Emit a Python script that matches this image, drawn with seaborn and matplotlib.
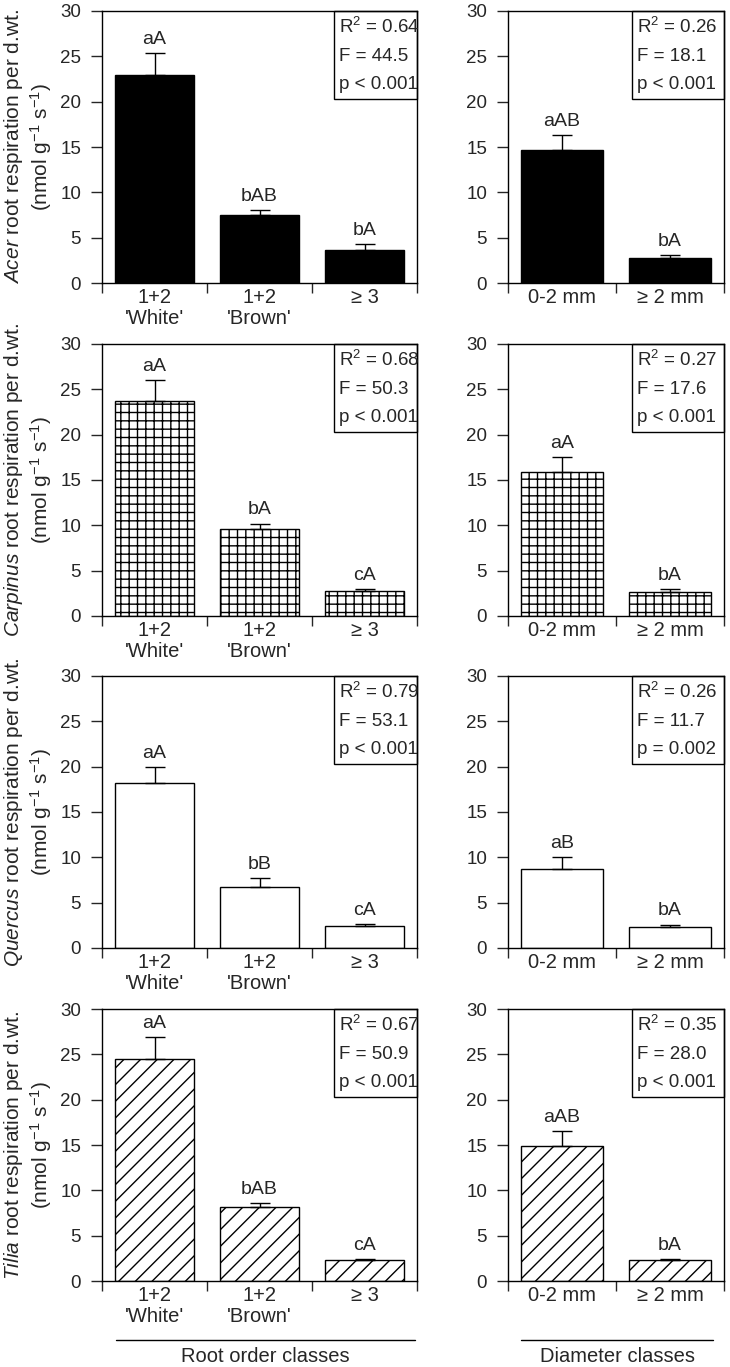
import matplotlib
matplotlib.use('Agg')
import matplotlib.pyplot as plt
import seaborn as sns
import numpy as np
import pandas as pd
from matplotlib.patches import Rectangle
from matplotlib.lines import Line2D

sns.set_theme(style='ticks')
plt.rcParams['font.family'] = ['Liberation Sans', 'DejaVu Sans']
plt.rcParams['mathtext.fontset'] = 'custom'
plt.rcParams['mathtext.rm'] = 'Liberation Sans'
plt.rcParams['mathtext.it'] = 'Liberation Sans:italic'
plt.rcParams['hatch.linewidth'] = 1.0

# datos
species = ['Acer', 'Carpinus', 'Quercus', 'Tilia']
order_labels = ["1+2\n'White'", "1+2\n'Brown'", "\u2265 3"]
diam_labels = ['0-2 mm', '\u2265 2 mm']

order_mean = [[22.9, 7.45, 3.65], [23.7, 9.55, 2.75], [18.2, 6.75, 2.43], [24.45, 8.13, 2.29]]
order_se = [[2.5, 0.65, 0.65], [2.3, 0.65, 0.25], [1.8, 0.95, 0.26], [2.5, 0.5, 0.18]]
diam_mean = [[14.65, 2.8], [15.9, 2.7], [8.7, 2.33], [14.9, 2.29]]
diam_se = [[1.65, 0.3], [1.6, 0.25], [1.3, 0.26], [1.65, 0.18]]

order_letters = [['aA', 'bAB', 'bA'], ['aA', 'bA', 'cA'], ['aA', 'bB', 'cA'], ['aA', 'bAB', 'cA']]
diam_letters = [['aAB', 'bA'], ['aA', 'bA'], ['aB', 'bA'], ['aAB', 'bA']]

order_r2 = ['0.64', '0.68', '0.79', '0.67']
order_f = ['44.5', '50.3', '53.1', '50.9']
order_p = ['p < 0.001', 'p < 0.001', 'p < 0.001', 'p < 0.001']
diam_r2 = ['0.26', '0.27', '0.26', '0.35']
diam_f = ['18.1', '17.6', '11.7', '28.0']
diam_p = ['p < 0.001', 'p < 0.001', 'p = 0.002', 'p < 0.001']

fills = ['black', 'white', 'white', 'white']
hatches = [None, '++', None, '//']

W, H = 730, 1367
fig = plt.figure(figsize=(W / 100, H / 100), dpi=100)
FS_Y = 13.5     # ticks eje y
FS_X = 14.5     # etiquetas de clases
FS_L = 14       # letras sobre barras
FS_S = 13.5     # recuadro estadistico


def add_ax(x0, x1, top, bottom):
    return fig.add_axes([x0 / W, 1 - bottom / H, (x1 - x0) / W, (bottom - top) / H])


def panel(ax, labels, means, se, letters, r2, f, p, fill, hatch, box_x, text_x):
    df = pd.DataFrame({'clase': labels, 'resp': means})
    sns.barplot(data=df, x='clase', y='resp', order=labels, color=fill, saturation=1,
                width=0.76, edgecolor='black', linewidth=1.0, errorbar=None, ax=ax)
    if hatch:
        for patch in ax.patches:
            patch.set_hatch(hatch)
    pos = np.arange(len(labels))
    ax.errorbar(pos, means, yerr=[np.zeros(len(se)), se], fmt='none', ecolor='black',
                elinewidth=1.0, capsize=7, capthick=1.0, zorder=3)
    for i, (m, s, l) in enumerate(zip(means, se, letters)):
        ax.annotate(l, (i, m + s), xytext=(0, 6.5), textcoords='offset points',
                    ha='center', va='baseline', fontsize=FS_L)
    ax.set_xlim(-0.5, len(labels) - 0.5)
    ax.set_ylim(0, 30)
    ax.set_yticks([0, 5, 10, 15, 20, 25, 30])
    ax.set_xticks(np.arange(len(labels) + 1) - 0.5)
    ax.set_xticklabels([])
    ax.set_xticks(pos, minor=True)
    ax.set_xticklabels(labels, minor=True, fontsize=FS_X, linespacing=1.15)
    ax.tick_params(axis='x', which='major', direction='out', length=7.5, width=1.0)
    ax.tick_params(axis='x', which='minor', length=0, pad=3.5)
    ax.tick_params(axis='y', direction='out', length=8, width=1.0, pad=7, labelsize=FS_Y)
    ax.set_xlabel('')
    ax.set_ylabel('')
    for sp in ax.spines.values():
        sp.set_visible(True)
        sp.set_linewidth(1.0)
        sp.set_color('black')
    ax.add_patch(Rectangle((box_x, 0.676), 1 - box_x, 0.324, transform=ax.transAxes,
                           fill=False, edgecolor='black', linewidth=1.0, clip_on=False))
    ax.text(text_x, 0.941, 'R$^2$ = ' + r2, transform=ax.transAxes, fontsize=FS_S, va='center')
    ax.text(text_x, 0.831, 'F = ' + f, transform=ax.transAxes, fontsize=FS_S, va='center')
    ax.text(text_x, 0.728, p, transform=ax.transAxes, fontsize=FS_S, va='center')


tops = [11, 344, 676, 1009]
for r, sp in enumerate(species):
    top = tops[r]
    bottom = top + 272
    axl = add_ax(102, 417, top, bottom)
    panel(axl, order_labels, order_mean[r], order_se[r], order_letters[r],
          order_r2[r], order_f[r], order_p[r], fills[r], hatches[r], 0.7365, 0.752)
    axl.text((14 - 102) / 315, 0.5, r'$\mathit{' + sp + '}$ root respiration per d.wt.',
             transform=axl.transAxes, rotation=90, ha='center', va='center', fontsize=15)
    axl.text((41 - 102) / 315, 0.5, r'(nmol g$^{-1}$ s$^{-1}$)',
             transform=axl.transAxes, rotation=90, ha='center', va='center', fontsize=15)

    axr = add_ax(508, 724, top, bottom)
    panel(axr, diam_labels, diam_mean[r], diam_se[r], diam_letters[r],
          diam_r2[r], diam_f[r], diam_p[r], fills[r], hatches[r], 0.574, 0.598)

# lineas y titulos inferiores
fig.add_artist(Line2D([116 / W, 415 / W], [1 - 1340 / H] * 2, color='black', linewidth=1.0))
fig.add_artist(Line2D([521 / W, 713 / W], [1 - 1340 / H] * 2, color='black', linewidth=1.0))
fig.text(265 / W, 1 - 1356 / H, 'Root order classes', ha='center', va='center', fontsize=14.5)
fig.text(617 / W, 1 - 1356 / H, 'Diameter classes', ha='center', va='center', fontsize=14.5)

fig.savefig('out.png', dpi=100)
